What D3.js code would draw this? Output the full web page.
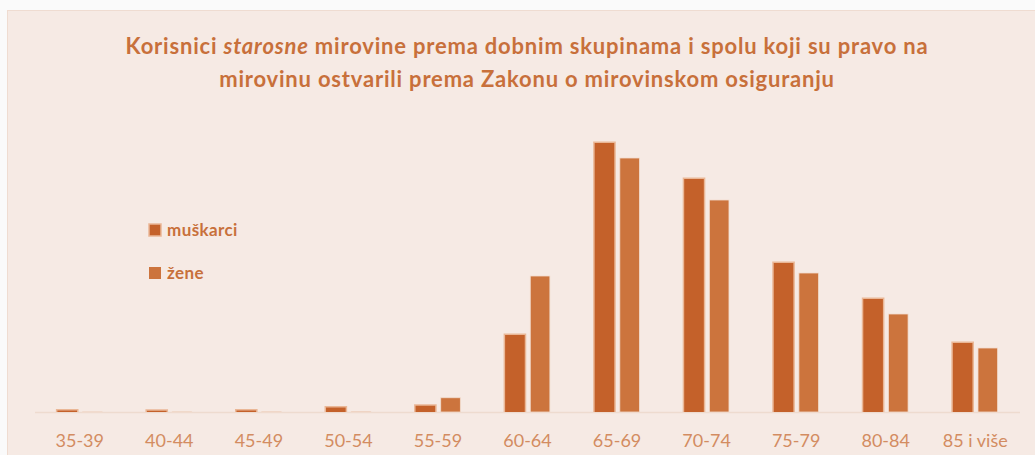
<!DOCTYPE html>
<html>
<head>
<meta charset="utf-8">
<script src="https://cdn.jsdelivr.net/npm/d3@7"></script>
<style>
  html, body { margin: 0; padding: 0; background: #fafafa; }
  svg { display: block; }
</style>
</head>
<body>
<svg id="chart" width="1035" height="455"></svg>
<script>
// dobne skupine
var categories = ["35-39", "40-44", "45-49", "50-54", "55-59", "60-64", "65-69", "70-74", "75-79", "80-84", "85 i više"];
var seriesNames = ["muškarci", "žene"];
// broj korisnika (procjena iz grafikona)
var muskarci = [600, 500, 600, 1800, 2500, 30800, 107600, 93200, 59600, 45200, 27600];
var zene = [40, 60, 80, 150, 5700, 54400, 101600, 84800, 55600, 39200, 25600];

var W = 1035, H = 455;
var colors = { "muškarci": "#c4612a", "žene": "#cc743d" };
var svg = d3.select("#chart");

// pozadina
svg.append("rect")
    .attr("x", 7.5).attr("y", 10.5)
    .attr("width", W).attr("height", H)
    .attr("fill", "#f6eae4")
    .attr("stroke", "#efdcd1");

var base = 412;
var x0 = d3.scaleBand().domain(categories).range([35, 1020])
    .paddingInner(0.5).paddingOuter(0.25);
var x1 = d3.scaleBand().domain(seriesNames).range([0, x0.bandwidth()])
    .paddingInner(0.22);
var y = d3.scaleLinear().domain([0, 107600]).range([base, 143]);

var rows = categories.map(function (c, i) {
    return { cat: c, vals: [
        { s: "muškarci", v: muskarci[i] },
        { s: "žene", v: zene[i] }
    ] };
});

// os x
svg.append("line")
    .attr("x1", 35).attr("x2", 1020)
    .attr("y1", base + 0.5).attr("y2", base + 0.5)
    .attr("stroke", "#eedbcf").attr("stroke-width", 1.5);

var groups = svg.selectAll("g.grp")
    .data(rows)
    .enter()
    .append("g")
    .attr("class", "grp")
    .attr("transform", function (d) { return "translate(" + x0(d.cat) + ",0)"; });

// sjaj oko muških stupaca
groups.selectAll("rect.glow")
    .data(function (d) { return d.vals.filter(function (e) { return e.s == "muškarci"; }); })
    .enter()
    .append("rect")
    .attr("class", "glow")
    .attr("x", function (d) { return x1(d.s) - 1.5; })
    .attr("y", function (d) { return y(d.v) - 1.5; })
    .attr("width", x1.bandwidth() + 3)
    .attr("height", function (d) { return base - y(d.v) + 1.5; })
    .attr("fill", "#eab796");

groups.selectAll("rect.bar")
    .data(function (d) { return d.vals; })
    .enter()
    .append("rect")
    .attr("class", "bar")
    .attr("x", function (d) { return x1(d.s); })
    .attr("y", function (d) { return y(d.v); })
    .attr("width", x1.bandwidth())
    .attr("height", function (d) { return base - y(d.v); })
    .attr("fill", function (d) { return colors[d.s]; })
    .attr("stroke", function (d) { return d.s == "žene" ? "#f2dccd" : "none"; })
    .attr("stroke-width", 0.8);

// oznake kategorija
var xAxis = d3.axisBottom(x0).tickSize(0).tickPadding(0);
var ax = svg.append("g")
    .attr("transform", "translate(0," + (base + 22) + ")")
    .call(xAxis);
ax.select(".domain").remove();
ax.selectAll("text")
    .attr("font-family", "Lato, 'Open Sans', sans-serif")
    .attr("font-size", "18px")
    .attr("fill", "#d38c61");

// naslov
var title = svg.append("text")
    .attr("text-anchor", "middle")
    .attr("font-family", "Lato, 'Open Sans', sans-serif")
    .attr("font-weight", "bold")
    .attr("font-size", "22px")
    .attr("letter-spacing", "0.8px")
    .attr("fill", "#c8703b");
var t1 = title.append("tspan").attr("x", 527).attr("y", 54);
t1.append("tspan").text("Korisnici ");
t1.append("tspan").attr("font-style", "italic").text("starosne");
t1.append("tspan").text(" mirovine prema dobnim skupinama i  spolu koji su pravo na");
title.append("tspan").attr("x", 527).attr("y", 87)
    .text("mirovinu ostvarili prema Zakonu o mirovinskom osiguranju");

// legenda
var legend = svg.selectAll("g.leg")
    .data(seriesNames)
    .enter()
    .append("g")
    .attr("class", "leg")
    .attr("transform", function (d, i) { return "translate(149," + (224 + i * 43) + ")"; });
legend.append("rect")
    .attr("width", 12).attr("height", 12)
    .attr("fill", function (d) { return colors[d]; })
    .attr("stroke", function (d) { return d == "muškarci" ? "#eab796" : "none"; })
    .attr("stroke-width", 1.5);
legend.append("text")
    .attr("x", 18).attr("y", 12)
    .attr("font-family", "Lato, 'Open Sans', sans-serif")
    .attr("font-weight", "bold")
    .attr("font-size", "17px")
    .attr("letter-spacing", "0.4px")
    .attr("fill", "#c8703b")
    .text(function (d) { return d; });
</script>
</body>
</html>
